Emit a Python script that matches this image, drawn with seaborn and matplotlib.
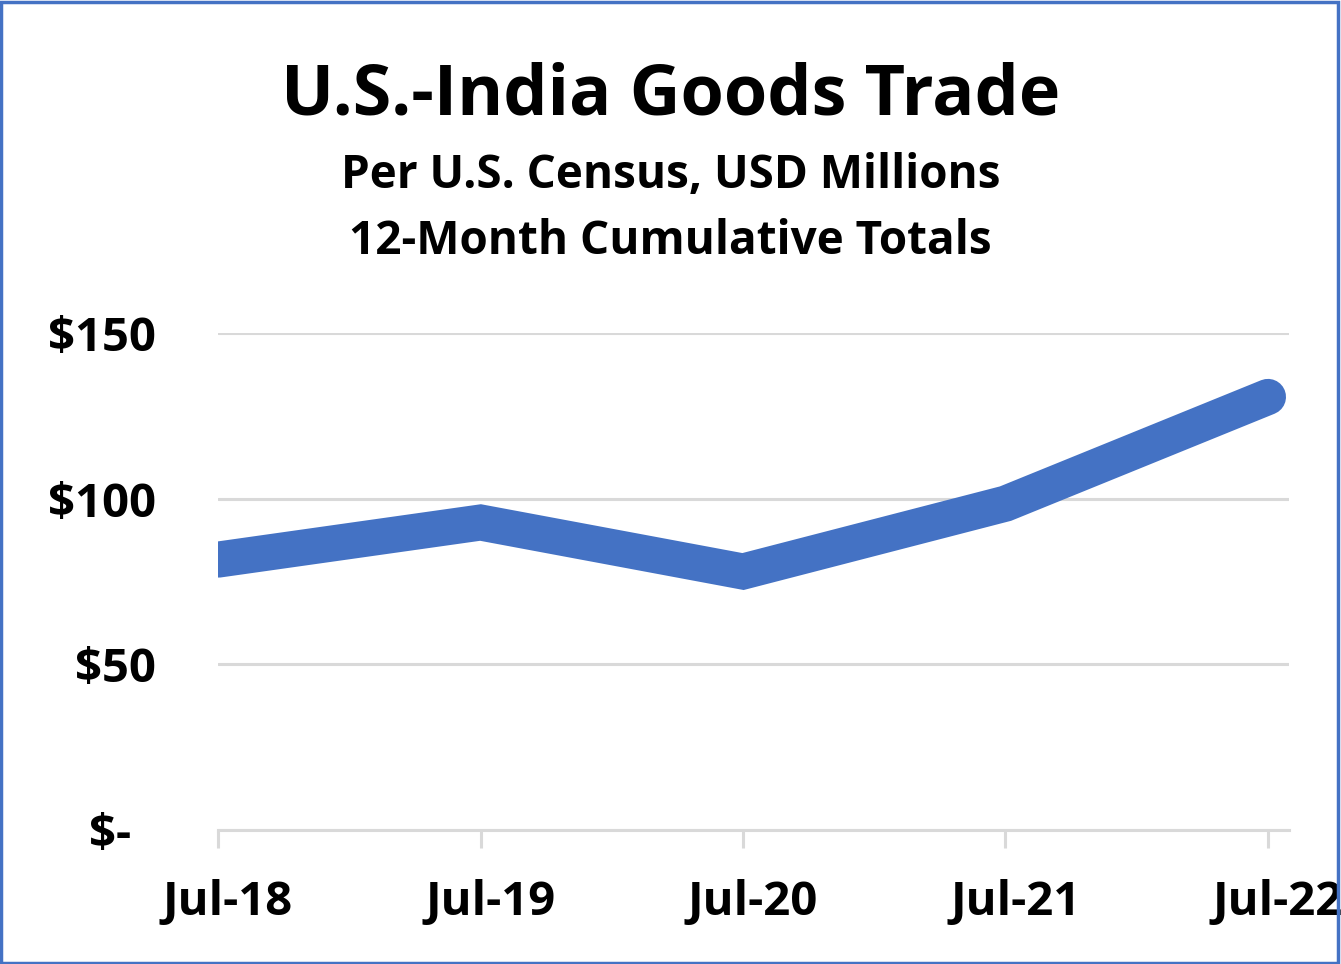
"""
U.S.-India goods trade, 12-month cumulative totals (USD millions).
Single thick line chart, Excel-like styling.
"""

import matplotlib
matplotlib.use("Agg")
import matplotlib.pyplot as plt
import matplotlib.transforms as mtransforms
from matplotlib.patches import Rectangle
import pandas as pd
import seaborn as sns

# --- data ---
periods = ["Jul-18", "Jul-19", "Jul-20", "Jul-21", "Jul-22"]
trade_totals = [81.6, 92.8, 78.0, 98.5, 130.7]
y_ticks = [0, 50, 100, 150]
y_tick_labels = ["$-  ", "$50", "$100", "$150"]

LINE_BLUE = "#4472C4"
GRID_GRAY = "#D9D9D9"
FONT = "Open Sans"

sns.set_theme(style="white")
plt.rcParams["font.family"] = [FONT, "DejaVu Sans"]
plt.rcParams["text.color"] = "black"

df = pd.DataFrame({"period": periods, "total": trade_totals})

fig = plt.figure(figsize=(13.41, 9.64), dpi=100)
ax = fig.add_axes([0.1626, 0.139, 0.7986, 0.5156])

sns.lineplot(data=df, x="period", y="total", sort=False, ax=ax,
             color=LINE_BLUE, linewidth=26,
             solid_capstyle="round", solid_joinstyle="miter")

ax.set_xlim(0, 4.08)
ax.set_ylim(0, 150)
ax.set_yticks(y_ticks)
ax.set_yticklabels(y_tick_labels)
ax.set_xticks(range(len(periods)))
ax.set_xticklabels(periods)
ax.set_xlabel("")
ax.set_ylabel("")

# gridlines and axis styling
ax.grid(axis="y", color=GRID_GRAY, linewidth=2.2)
ax.set_axisbelow(True)
for side in ["top", "right", "left"]:
    ax.spines[side].set_visible(False)
ax.spines["bottom"].set_color(GRID_GRAY)
ax.spines["bottom"].set_linewidth(2.2)

ax.tick_params(axis="x", bottom=True, direction="out", length=13, width=2.2,
               color=GRID_GRAY, pad=22, labelsize=34, labelcolor="black")
ax.tick_params(axis="y", left=False, length=0, pad=45, labelsize=34,
               labelcolor="black")
for lbl in ax.get_xticklabels() + ax.get_yticklabels():
    lbl.set_fontweight("bold")

# Excel puts category labels slightly to the right of the ticks
shift = mtransforms.ScaledTranslation(10 / 100, 0, fig.dpi_scale_trans)
for lbl in ax.get_xticklabels():
    lbl.set_transform(lbl.get_transform() + shift)

# titles
fig.text(0.5, 0.9, "U.S.-India Goods Trade", ha="center", va="center",
         fontsize=50.5, fontweight="bold", color="black")
fig.text(0.5, 0.818, "Per U.S. Census, USD Millions", ha="center",
         va="center", fontsize=33, fontweight="bold", color="black")
fig.text(0.5, 0.749, "12-Month Cumulative Totals", ha="center",
         va="center", fontsize=33, fontweight="bold", color="black")

# blue chart border
fig.patches.append(Rectangle((0.001, 0.0015), 0.997, 0.996,
                             transform=fig.transFigure, fill=False,
                             edgecolor=LINE_BLUE, linewidth=2.5))

fig.savefig("out.png", dpi=100)
